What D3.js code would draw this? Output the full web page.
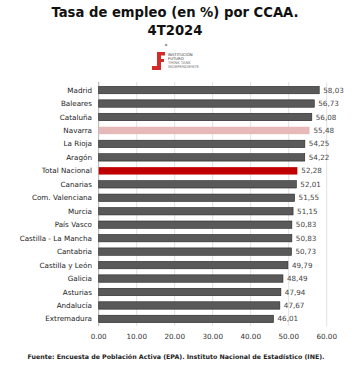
<!DOCTYPE html>
<html><head><meta charset="utf-8">
<script src="https://cdn.jsdelivr.net/npm/d3@7/dist/d3.min.js"></script>
<style>body{margin:0;background:#fff}svg{display:block}</style>
</head><body>
<script>
const categories = ["Madrid","Baleares","Cataluña","Navarra","La Rioja","Aragón","Total Nacional","Canarias","Com. Valenciana","Murcia","País Vasco","Castilla - La Mancha","Cantabria","Castilla y León","Galicia","Asturias","Andalucía","Extremadura"];
const values = [58.03,56.73,56.08,55.48,54.25,54.22,52.28,52.01,51.55,51.15,50.83,50.83,50.73,49.79,48.49,47.94,47.67,46.01];
const ticks = [0,10,20,30,40,50,60];
const highlight = {"Navarra":"#e6b8b7","Total Nacional":"#c00000"};

const W=360,H=372;
const font="'DejaVu Sans', sans-serif";
const svg=d3.select("body").append("svg").attr("width",W).attr("height",H);

svg.append("text").attr("x",175).attr("y",17).attr("text-anchor","middle")
  .attr("font-family",font).attr("font-weight","bold").attr("font-size",13.2).attr("fill","#111")
  .text("Tasa de empleo (en %) por CCAA.");
svg.append("text").attr("x",175).attr("y",35).attr("text-anchor","middle")
  .attr("font-family",font).attr("font-weight","bold").attr("font-size",13.2).attr("fill","#111")
  .text("4T2024");
svg.append("text").attr("x",166).attr("y",48).attr("text-anchor","middle")
  .attr("font-family",font).attr("font-size",6).attr("fill","#333").text("*");

// logo
const lg=svg.append("g").attr("fill","#d42a2a");
lg.append("rect").attr("x",157).attr("y",52).attr("width",4).attr("height",18);
lg.append("rect").attr("x",152).attr("y",66).attr("width",9).attr("height",4);
lg.append("rect").attr("x",157).attr("y",52).attr("width",8).attr("height",3.5);
lg.append("rect").attr("x",157).attr("y",59).attr("width",7).attr("height",3);
const lt=[["INSTITUCIÓN","#333",56],["FUTURO","#333",60],["THINK TANK","#777",64],["INDEPENDIENTE","#777",68]];
lt.forEach(d=>svg.append("text").attr("x",168).attr("y",d[2]).attr("font-family",font)
  .attr("font-size",3.8).attr("fill",d[1]).text(d[0]));

const x=d3.scaleLinear().domain([0,60]).range([98.7,326.7]);
const y=d3.scaleBand().domain(categories).range([83,326]).paddingInner(0.45).paddingOuter(0.25);

// grid
svg.append("g").selectAll("line").data(ticks.slice(1)).join("line")
  .attr("x1",d=>x(d)).attr("x2",d=>x(d)).attr("y1",82).attr("y2",326)
  .attr("stroke","#d9d9d9").attr("stroke-width",0.8);
svg.append("line").attr("x1",x(0)).attr("x2",x(0)).attr("y1",82).attr("y2",326)
  .attr("stroke","#999").attr("stroke-width",0.8);

svg.append("g").selectAll("rect").data(categories).join("rect")
  .attr("x",x(0)).attr("y",d=>y(d)).attr("height",y.bandwidth())
  .attr("width",(d,i)=>x(values[i])-x(0))
  .attr("fill",d=>highlight[d]||"#595959")
  .attr("stroke",d=>highlight[d]?"none":"#262626").attr("stroke-width",0.6);

svg.append("g").selectAll("text").data(categories).join("text")
  .attr("x",92).attr("y",d=>y(d)+y.bandwidth()/2).attr("dy","0.35em")
  .attr("text-anchor","end").attr("font-family",font).attr("font-size",7.2).attr("fill","#222")
  .text(d=>d);

svg.append("g").selectAll("text").data(categories).join("text")
  .attr("x",(d,i)=>x(values[i])+4).attr("y",d=>y(d)+y.bandwidth()/2).attr("dy","0.35em")
  .attr("font-family",font).attr("font-size",7.2).attr("fill","#444")
  .text((d,i)=>values[i].toFixed(2).replace(".",","));

svg.append("g").selectAll("text").data(ticks).join("text")
  .attr("x",d=>x(d)).attr("y",339).attr("text-anchor","middle")
  .attr("font-family",font).attr("font-size",7.2).attr("fill","#333")
  .text(d=>d.toFixed(2));

svg.append("text").attr("x",176).attr("y",359).attr("text-anchor","middle")
  .attr("font-family",font).attr("font-size",6.3).attr("font-weight","bold").attr("fill","#222")
  .text("Fuente: Encuesta de Población Activa (EPA). Instituto Nacional de Estadístico (INE).");
</script>
</body></html>
